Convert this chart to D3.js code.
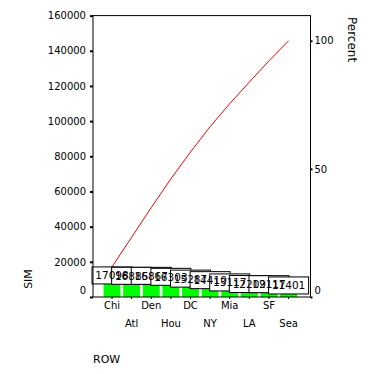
<!DOCTYPE html>
<html><head><meta charset="utf-8">
<script src="https://cdn.jsdelivr.net/npm/d3@7"></script>
<style>
body{margin:0;background:#fff}
svg{display:block}
text{font-family:"DejaVu Sans","Liberation Sans",Arial,sans-serif}
</style>
</head><body>
<svg id="c" width="380" height="374"></svg>
<script>
const categories = ["Chi","Atl","Den","Hou","DC","NY","Mia","LA","SF","Sea"];
const values = [17098,16885,16867,16303,15287,14410,13117,12209,12117,11401];
const leftTicks = [0,20000,40000,60000,80000,100000,120000,140000,160000];
const percentTicks = [0,50,100];
const xTitle = "ROW";
const yTitle = "SIM";
const y2Title = "Percent";

const svg = d3.select("#c");
svg.append("rect").attr("width",380).attr("height",374).attr("fill","#fff");

const plot = {left:93, right:310.5, top:15.6, bottom:297};

const x = d3.scaleBand().domain(categories)
  .range([102.2, 298.4]).paddingInner(0.14).paddingOuter(0.07);
const y = d3.scaleLinear().domain([0,160000]).range([plot.bottom, plot.top]);
const total = d3.sum(values);
const yp = d3.scaleLinear().domain([0,100]).range([plot.bottom, y(total)]);

let acc = 0;
const cum = values.map(v => (acc += v));

// bars
const bars = svg.append("g");
bars.selectAll("rect").data(values).join("rect")
  .attr("x",(d,i)=>x(categories[i]))
  .attr("width",x.bandwidth())
  .attr("y",d=>y(d))
  .attr("height",d=>plot.bottom - y(d))
  .attr("fill","#00ff00");
bars.selectAll("line").data(values).join("line")
  .attr("x1",(d,i)=>x(categories[i]))
  .attr("x2",(d,i)=>x(categories[i])+x.bandwidth())
  .attr("y1",d=>y(d)+0.5).attr("y2",d=>y(d)+0.5)
  .attr("stroke","#000").attr("stroke-width",1);

// cumulative line
svg.append("path")
  .attr("d", d3.line()
    .x((d,i)=>x(categories[i])+x.bandwidth()/2)
    .y(d=>y(d))(cum))
  .attr("fill","none").attr("stroke","#ff0000").attr("stroke-width",1);

// label boxes, then label texts on top
const lab = svg.append("g");
values.forEach((v,i)=>{
  const cx = x(categories[i]) + x.bandwidth()/2;
  lab.append("rect").attr("x",cx-20).attr("y",y(v)).attr("width",40).attr("height",17)
    .attr("fill","#fff").attr("stroke","#000").attr("stroke-width",1);
});
values.forEach((v,i)=>{
  const cx = x(categories[i]) + x.bandwidth()/2;
  lab.append("text").attr("x",cx).attr("y",y(v)+12.5).attr("text-anchor","middle")
    .attr("font-size","10.5px").attr("fill","#000").text(v);
});

// frame
svg.append("rect").attr("x",plot.left).attr("y",plot.top)
  .attr("width",plot.right-plot.left).attr("height",plot.bottom-plot.top)
  .attr("fill","none").attr("stroke","#000").attr("stroke-width",1);

// left axis
const ga = svg.append("g").attr("transform",`translate(${plot.left},0)`)
  .call(d3.axisLeft(y).tickValues(leftTicks).tickSize(3).tickPadding(4).tickFormat(d3.format("d")));
ga.select(".domain").remove();
ga.selectAll(".tick line").attr("stroke-width",2);
ga.selectAll("text").attr("font-size","10px").attr("font-family","DejaVu Sans").attr("fill","#000")
  .attr("x",-7).attr("y",d=>d===0?-7:0);

// right axis
const gb = svg.append("g").attr("transform",`translate(${plot.right},0)`)
  .call(d3.axisRight(yp).tickValues(percentTicks).tickSize(2).tickPadding(2).tickFormat(d3.format("d")));
gb.select(".domain").remove();
gb.selectAll(".tick line").attr("stroke-width",2);
gb.selectAll("text").attr("font-size","10px").attr("font-family","DejaVu Sans").attr("fill","#000")
  .attr("y",d=>d===0?-7:0);

// bottom axis
const gx = svg.append("g").attr("transform",`translate(0,${plot.bottom})`)
  .call(d3.axisBottom(x).tickSize(2).tickPadding(3));
gx.select(".domain").remove();
gx.selectAll(".tick text").attr("font-size","10px").attr("font-family","DejaVu Sans").attr("fill","#000")
  .attr("y",(d,i)=>i%2===0?5:23);

// titles
svg.append("text").attr("x",93).attr("y",363).attr("font-size","11px").text(xTitle);
svg.append("text").attr("transform","translate(32,279) rotate(-90)").attr("text-anchor","middle")
  .attr("font-size","11px").text(yTitle);
svg.append("text").attr("transform","translate(348,17) rotate(90)").attr("text-anchor","start")
  .attr("font-size","12px").text(y2Title);
</script>
</body></html>
